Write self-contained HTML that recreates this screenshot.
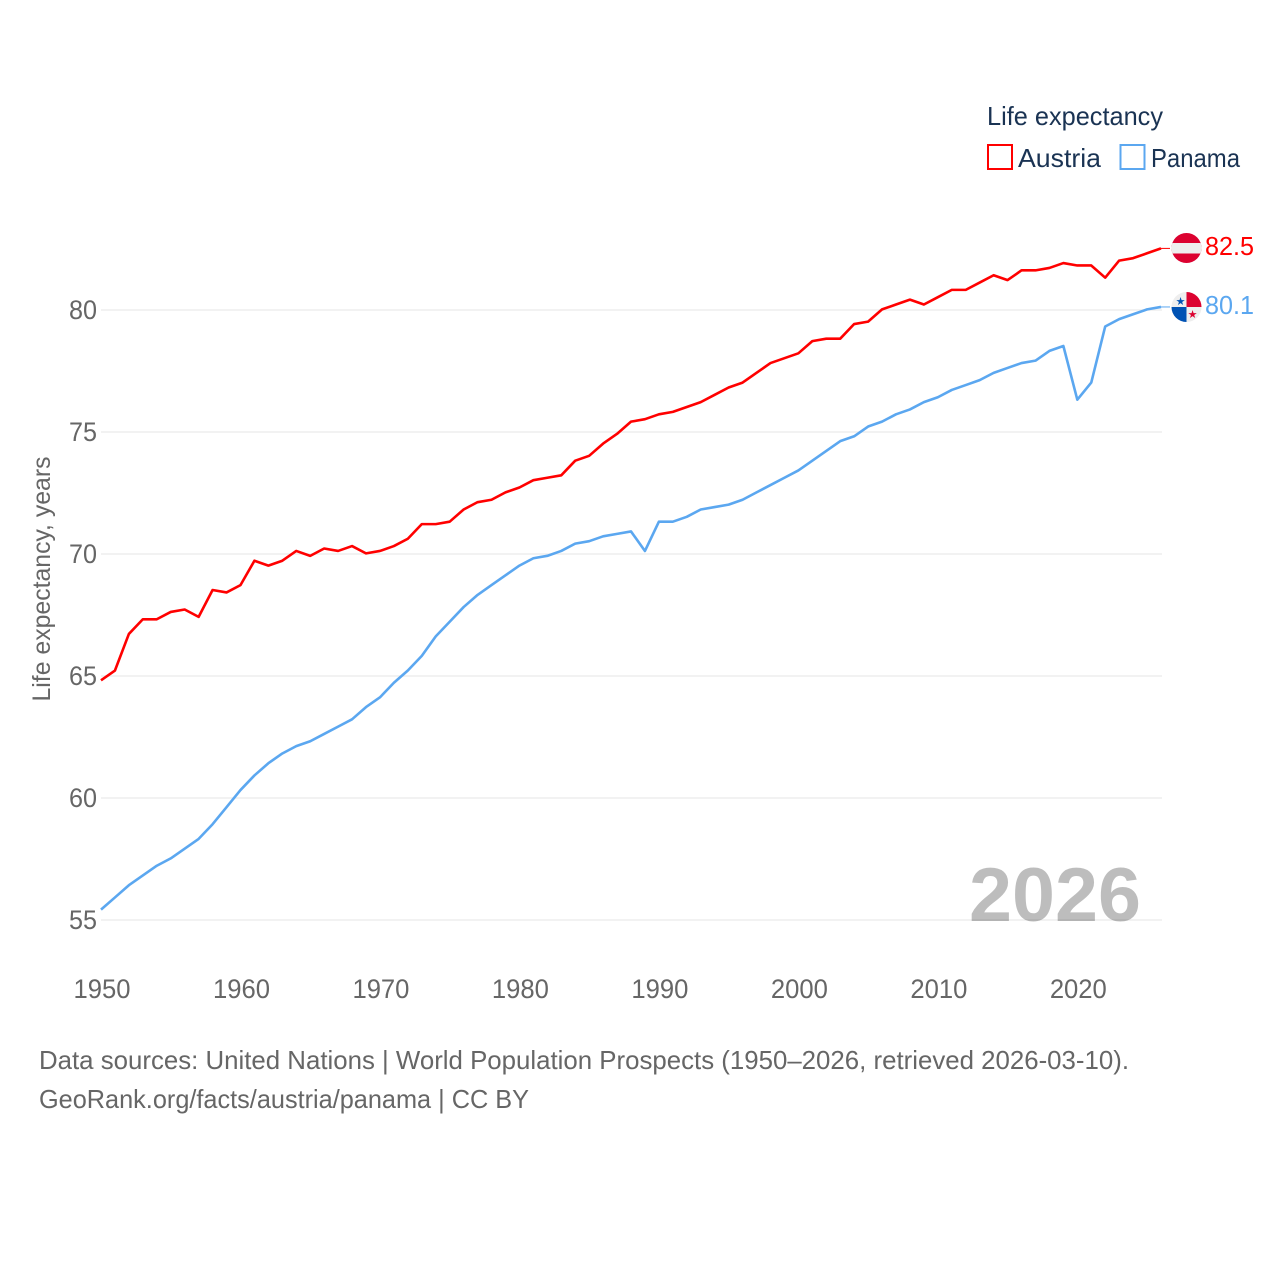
<!DOCTYPE html>
<html>
<head>
<meta charset="utf-8">
<title>Life expectancy: Austria vs Panama</title>
<style>
html,body{margin:0;padding:0;background:#fff;}
svg{display:block;font-family:"Liberation Sans",sans-serif;}
</style>
</head>
<body>
<svg id="chart" xmlns="http://www.w3.org/2000/svg" width="1280" height="1280" viewBox="0 0 1280 1280">
  <rect width="1280" height="1280" fill="#fff"/>
  <g id="grid"></g>
  <g id="yticks"></g>
  <g id="xticks"></g>
  <text transform="translate(50,579) rotate(-90)" text-anchor="middle" font-size="25" fill="#666" textLength="245" lengthAdjust="spacingAndGlyphs">Life expectancy, years</text>
  <text x="1055" y="921" text-anchor="middle" font-size="76" font-weight="bold" fill="#000" fill-opacity="0.26" textLength="172" lengthAdjust="spacingAndGlyphs">2026</text>
  <g id="series"></g>

  <g>
    <text x="987" y="125" font-size="26" fill="#1a3353" textLength="176" lengthAdjust="spacingAndGlyphs">Life expectancy</text>
    <g>
      <rect x="988" y="145" width="24" height="24" fill="#fff" stroke="#ff0000" stroke-width="2"/>
      <text x="1018" y="167" font-size="26" fill="#1a3353" textLength="83" lengthAdjust="spacingAndGlyphs">Austria</text>
    </g>
    <g>
      <rect x="1120.500" y="145" width="24" height="24" fill="#fff" stroke="#5ba7f0" stroke-width="2"/>
      <text x="1151" y="167" font-size="26" fill="#1a3353" textLength="89" lengthAdjust="spacingAndGlyphs">Panama</text>
    </g>
  </g>

  <defs>
    <clipPath id="clip-at"><circle cx="1186.500" cy="248" r="15"/></clipPath>
    <clipPath id="clip-pa"><circle cx="1186.500" cy="307" r="15"/></clipPath>
  </defs>
  <g clip-path="url(#clip-at)">
    <rect x="1170" y="232" width="34" height="32" fill="#dc0230"/>
    <rect x="1170" y="243" width="34" height="10.500" fill="#eeeeee"/>
  </g>
  <g clip-path="url(#clip-pa)">
    <rect x="1170" y="291" width="34" height="32" fill="#eeeeee"/>
    <rect x="1186.500" y="291" width="17" height="16" fill="#dc0230"/>
    <rect x="1170" y="307" width="16.500" height="16" fill="#0052b4"/>
    <text x="1180.500" y="305" text-anchor="middle" font-size="11" fill="#0052b4" style="font-family:'DejaVu Sans',sans-serif">★</text>
    <text x="1192.500" y="318" text-anchor="middle" font-size="11" fill="#dc0230" style="font-family:'DejaVu Sans',sans-serif">★</text>
  </g>
  <text x="1205" y="255" font-size="26" fill="#ff0000" textLength="49" lengthAdjust="spacingAndGlyphs">82.5</text>
  <text x="1205" y="314" font-size="26" fill="#5ba7f0" textLength="49" lengthAdjust="spacingAndGlyphs">80.1</text>

  <g>
    <text x="39" y="1069" font-size="26" fill="#666" textLength="1090" lengthAdjust="spacingAndGlyphs">Data sources: United Nations | World Population Prospects (1950–2026, retrieved 2026-03-10).</text>
    <text x="39" y="1108" font-size="26" fill="#666" textLength="490" lengthAdjust="spacingAndGlyphs">GeoRank.org/facts/austria/panama | CC BY</text>
  </g>
</svg>
<script>
const years = [1950,1951,1952,1953,1954,1955,1956,1957,1958,1959,1960,1961,1962,1963,1964,1965,1966,1967,1968,1969,1970,1971,1972,1973,1974,1975,1976,1977,1978,1979,1980,1981,1982,1983,1984,1985,1986,1987,1988,1989,1990,1991,1992,1993,1994,1995,1996,1997,1998,1999,2000,2001,2002,2003,2004,2005,2006,2007,2008,2009,2010,2011,2012,2013,2014,2015,2016,2017,2018,2019,2020,2021,2022,2023,2024,2025,2026];
const austria = [64.8,65.2,66.7,67.3,67.3,67.6,67.7,67.4,68.5,68.4,68.7,69.7,69.5,69.7,70.1,69.9,70.2,70.1,70.3,70.0,70.1,70.3,70.6,71.2,71.2,71.3,71.8,72.1,72.2,72.5,72.7,73.0,73.1,73.2,73.8,74.0,74.5,74.9,75.4,75.5,75.7,75.8,76.0,76.2,76.5,76.8,77.0,77.4,77.8,78.0,78.2,78.7,78.8,78.8,79.4,79.5,80.0,80.2,80.4,80.2,80.5,80.8,80.8,81.1,81.4,81.2,81.6,81.6,81.7,81.9,81.8,81.8,81.3,82.0,82.1,82.3,82.5];
const panama = [55.4,55.9,56.4,56.8,57.2,57.5,57.9,58.3,58.9,59.6,60.3,60.9,61.4,61.8,62.1,62.3,62.6,62.9,63.2,63.7,64.1,64.7,65.2,65.8,66.6,67.2,67.8,68.3,68.7,69.1,69.5,69.8,69.9,70.1,70.4,70.5,70.7,70.8,70.9,70.1,71.3,71.3,71.5,71.8,71.9,72.0,72.2,72.5,72.8,73.1,73.4,73.8,74.2,74.6,74.8,75.2,75.4,75.7,75.9,76.2,76.4,76.7,76.9,77.1,77.4,77.6,77.8,77.9,78.3,78.5,76.3,77.0,79.3,79.6,79.8,80.0,80.1];
const yTickValues = [55,60,65,70,75,80];
const xTickValues = [1950,1960,1970,1980,1990,2000,2010,2020];

const NS = 'http://www.w3.org/2000/svg';
const xScale = function (year) { return 101 + (year - 1950) * (1161 - 101) / (2026 - 1950); };
const yScale = function (value) { return 310 + (80 - value) * (920 - 310) / (80 - 55); };
const lineOffsetY = -0.6;

const gridGroup = document.getElementById('grid');
const yTickGroup = document.getElementById('yticks');
const xTickGroup = document.getElementById('xticks');
const seriesGroup = document.getElementById('series');

yTickValues.forEach(function (tick) {
  const line = document.createElementNS(NS, 'line');
  
  
  line.setAttribute('x1', xScale(1950));
  line.setAttribute('x2', xScale(2026) + 1);
  line.setAttribute('y1', yScale(tick));
  line.setAttribute('y2', yScale(tick));
  line.setAttribute('stroke', '#eeeeee');
  line.setAttribute('stroke-width', '1.5');
  gridGroup.appendChild(line);

  const label = document.createElementNS(NS, 'text');
  
  
  label.setAttribute('x', 97);
  label.setAttribute('y', yScale(tick) + 9);
  label.setAttribute('text-anchor', 'end');
  label.setAttribute('font-size', '26.500');
  label.setAttribute('fill', '#666');
  label.setAttribute('textLength', '28');
  label.setAttribute('lengthAdjust', 'spacingAndGlyphs');
  label.textContent = String(tick);
  yTickGroup.appendChild(label);
});

xTickValues.forEach(function (tick) {
  const label = document.createElementNS(NS, 'text');
  
  
  label.setAttribute('x', xScale(tick) + 1);
  label.setAttribute('y', 998);
  label.setAttribute('text-anchor', 'middle');
  label.setAttribute('font-size', '26.500');
  label.setAttribute('fill', '#666');
  label.setAttribute('textLength', '57');
  label.setAttribute('lengthAdjust', 'spacingAndGlyphs');
  label.textContent = String(tick);
  xTickGroup.appendChild(label);
});

function linePoints(values) {
  return values.map(function (value, i) {
    return xScale(years[i]).toFixed(2) + ',' + (yScale(value) + lineOffsetY).toFixed(2);
  });
}

const austriaLine = document.createElementNS(NS, 'polyline');


austriaLine.setAttribute('points', linePoints(austria).join(' '));
austriaLine.setAttribute('fill', 'none');
austriaLine.setAttribute('stroke', '#ff0000');
austriaLine.setAttribute('stroke-width', '2.600');
austriaLine.setAttribute('stroke-linejoin', 'round');
seriesGroup.appendChild(austriaLine);

const panamaLine = document.createElementNS(NS, 'polyline');


panamaLine.setAttribute('points', linePoints(panama).join(' '));
panamaLine.setAttribute('fill', 'none');
panamaLine.setAttribute('stroke', '#5ba7f0');
panamaLine.setAttribute('stroke-width', '2.600');
panamaLine.setAttribute('stroke-linejoin', 'round');
seriesGroup.appendChild(panamaLine);

const austriaLead = document.createElementNS(NS, 'line');


austriaLead.setAttribute('x1', xScale(2026));
austriaLead.setAttribute('x2', xScale(2026) + 9);
austriaLead.setAttribute('y1', yScale(austria[austria.length - 1]) + lineOffsetY);
austriaLead.setAttribute('y2', yScale(austria[austria.length - 1]) + lineOffsetY);
austriaLead.setAttribute('stroke', '#ff0000');
austriaLead.setAttribute('stroke-width', '1');
seriesGroup.appendChild(austriaLead);

const panamaLead = document.createElementNS(NS, 'line');


panamaLead.setAttribute('x1', xScale(2026));
panamaLead.setAttribute('x2', xScale(2026) + 9);
panamaLead.setAttribute('y1', yScale(panama[panama.length - 1]) + lineOffsetY);
panamaLead.setAttribute('y2', yScale(panama[panama.length - 1]) + lineOffsetY);
panamaLead.setAttribute('stroke', '#5ba7f0');
panamaLead.setAttribute('stroke-width', '1');
seriesGroup.appendChild(panamaLead);
</script>
</body>
</html>
